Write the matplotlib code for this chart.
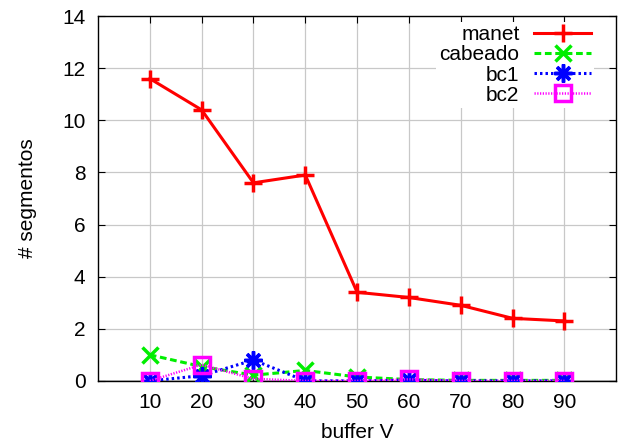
import matplotlib
matplotlib.use("Agg")
import matplotlib.pyplot as plt

buffer_v = [10, 20, 30, 40, 50, 60, 70, 80, 90]
manet = [11.6, 10.4, 7.6, 7.9, 3.4, 3.2, 2.9, 2.4, 2.3]
cabeado = [1.0, 0.55, 0.22, 0.4, 0.15, 0.05, 0.02, 0.02, 0.02]
bc1 = [0.0, 0.2, 0.8, 0.0, 0.0, 0.02, 0.0, 0.0, 0.0]
bc2 = [0.0, 0.62, 0.08, 0.0, 0.0, 0.06, 0.0, 0.0, 0.0]
y_ticks = [0, 2, 4, 6, 8, 10, 12, 14]

plt.rcParams['font.family'] = ['Liberation Sans', 'DejaVu Sans']

fig = plt.figure(figsize=(6.2, 4.46), dpi=100)
ax = fig.add_axes([0.158, 0.146, 0.836, 0.818])

ax.plot(buffer_v, manet, color='#ff0000', lw=2.2, ls='-', marker='+',
        ms=13, mew=2.5, label='manet', zorder=3)
ax.plot(buffer_v, cabeado, color='#00ee00', lw=2.2, ls=(0, (2.2, 1.2)), marker='x',
        ms=11, mew=2.5, label='cabeado', zorder=3)
ax.plot(buffer_v, bc1, color='#0000ff', lw=2.2, ls=(0, (0.8, 1.0)), marker=(8, 2, 0),
        ms=13, mew=2.5, label='bc1', zorder=4)
ax.plot(buffer_v, bc2, color='#ff00ff', lw=1.8, ls=(0, (0.5, 0.6)), marker='s',
        ms=12, mew=2.5, mfc='none', label='bc2', zorder=5)

ax.axhline(0, color='black', lw=1.0, zorder=2)

ax.set_xlim(0, 100)
ax.set_ylim(0, 14)
ax.set_xticks(buffer_v)
ax.set_yticks(y_ticks)
ax.grid(True, color='#c8c8c8', lw=0.9)
ax.set_axisbelow(True)
ax.tick_params(direction='in', length=5, width=0.8, labelsize=15,
               top=True, right=True, pad=9)
for s in ax.spines.values():
    s.set_linewidth(1.0)
    s.set_color('black')

ax.set_xlabel('buffer V', fontsize=15, labelpad=8)
ax.set_ylabel('# segmentos', fontsize=15, labelpad=18)

leg = ax.legend(loc='upper right', markerfirst=False, frameon=True, fontsize=15,
                handlelength=2.75, handletextpad=0.7, labelspacing=0.05,
                borderaxespad=0.3, borderpad=0.15, bbox_to_anchor=(0.97, 1.0))
leg.get_frame().set_facecolor('white')
leg.get_frame().set_edgecolor('none')
leg.get_frame().set_alpha(1.0)

fig.savefig('out.png', dpi=100)
